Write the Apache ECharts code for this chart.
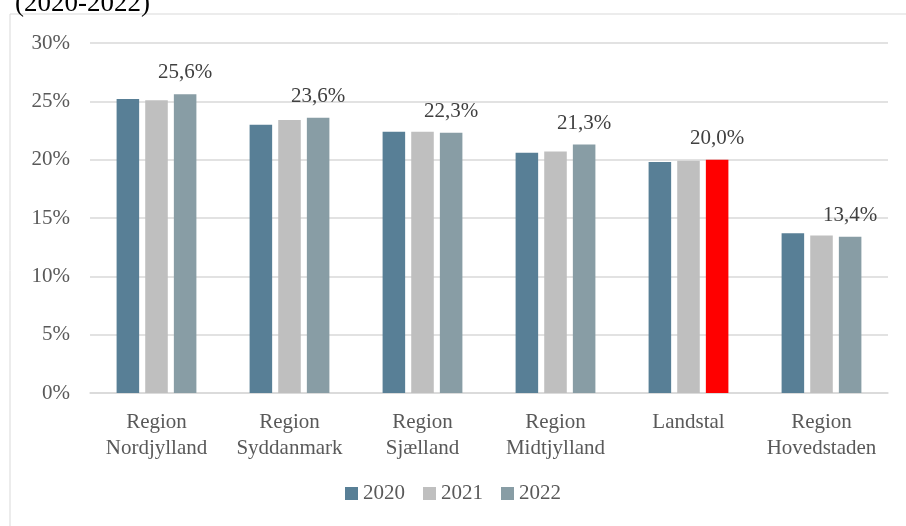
<!DOCTYPE html>
<html>
<head>
	<meta charset="utf-8">
	<title>chart</title>
	<script src="https://cdn.jsdelivr.net/npm/echarts@6/dist/echarts.min.js"></script>
	<style>
		body { margin: 0; background: #fff; }
	</style>
</head>
<body>
	<div id="main" style="width: 906px;height:526px;"></div>
	<script type="text/javascript">
		var regions = ['Region\nNordjylland', 'Region\nSyddanmark', 'Region\nSjælland', 'Region\nMidtjylland', 'Landstal', 'Region\nHovedstaden'];
		var y2020 = [25.2, 23.0, 22.4, 20.6, 19.8, 13.7];
		var y2021 = [25.1, 23.4, 22.4, 20.7, 19.9, 13.5];
		var y2022 = [25.6, 23.6, 22.3, 21.3, 20.0, 13.4];
		var yTicks = [0, 5, 10, 15, 20, 25, 30];

		const FONT = '"Liberation Serif", "DejaVu Serif", serif';

		// 2022 bar for Landstal is highlighted in red
		var data2022 = y2022.map(function(v, i){
			if (regions[i] === 'Landstal')
				return { value: v, itemStyle: { color: '#FF0000' } };
			return v;
		});

		var myChart = echarts.init(document.getElementById('main'));

		var option = {
			animation: false,
			title: {
				text: '(2020-2022)',
				left: 10,
				top: -15,
				textStyle: { fontFamily: FONT, fontSize: 27, fontWeight: 'normal', color: '#000' }
			},
			graphic: [{
				type: 'rect',
				shape: { x: 10, y: 14, width: 920, height: 530 },
				style: { fill: 'none', stroke: '#D9D9D9', lineWidth: 1 },
				silent: true
			}],
			legend: {
				bottom: 17,
				left: 'center',
				itemWidth: 13,
				itemHeight: 13,
				itemGap: 18,
				icon: 'rect',
				textStyle: { fontFamily: FONT, fontSize: 21, color: '#595959' },
				data: ['2020', '2021', '2022']
			},
			grid: { left: 90, right: 18, top: 43, bottom: 133 },
			xAxis: {
				type: 'category',
				data: regions,
				axisLine: { lineStyle: { color: '#D9D9D9', width: 1.5 } },
				axisTick: { show: false },
				axisLabel: { interval: 0, fontFamily: FONT, fontSize: 21, color: '#595959', lineHeight: 26, margin: 16 }
			},
			yAxis: {
				type: 'value',
				min: yTicks[0],
				max: yTicks[yTicks.length - 1],
				interval: 5,
				axisLine: { show: false },
				axisTick: { show: false },
				splitLine: { lineStyle: { color: '#D9D9D9', width: 1.5 } },
				axisLabel: {
					fontFamily: FONT, fontSize: 21, color: '#595959', margin: 20,
					formatter: function(v){ return v + '%'; }
				}
			},
			series: [{
				name: '2020',
				type: 'bar',
				data: y2020,
				itemStyle: { color: '#587F96' },
				barGap: '27%',
				barCategoryGap: '40%'
			},
			{
				name: '2021',
				type: 'bar',
				data: y2021,
				itemStyle: { color: '#BFBFBF' }
			},
			{
				name: '2022',
				type: 'bar',
				data: data2022,
				itemStyle: { color: '#889DA5' },
				label: {
					show: true,
					position: 'top',
					distance: 11,
					fontFamily: FONT,
					fontSize: 21,
					color: '#404040',
					formatter: function(p){ return p.value.toFixed(1).replace('.', ',') + '%'; }
				}
			}]
		};

		myChart.setOption(option);
	</script>
</body>
</html>
